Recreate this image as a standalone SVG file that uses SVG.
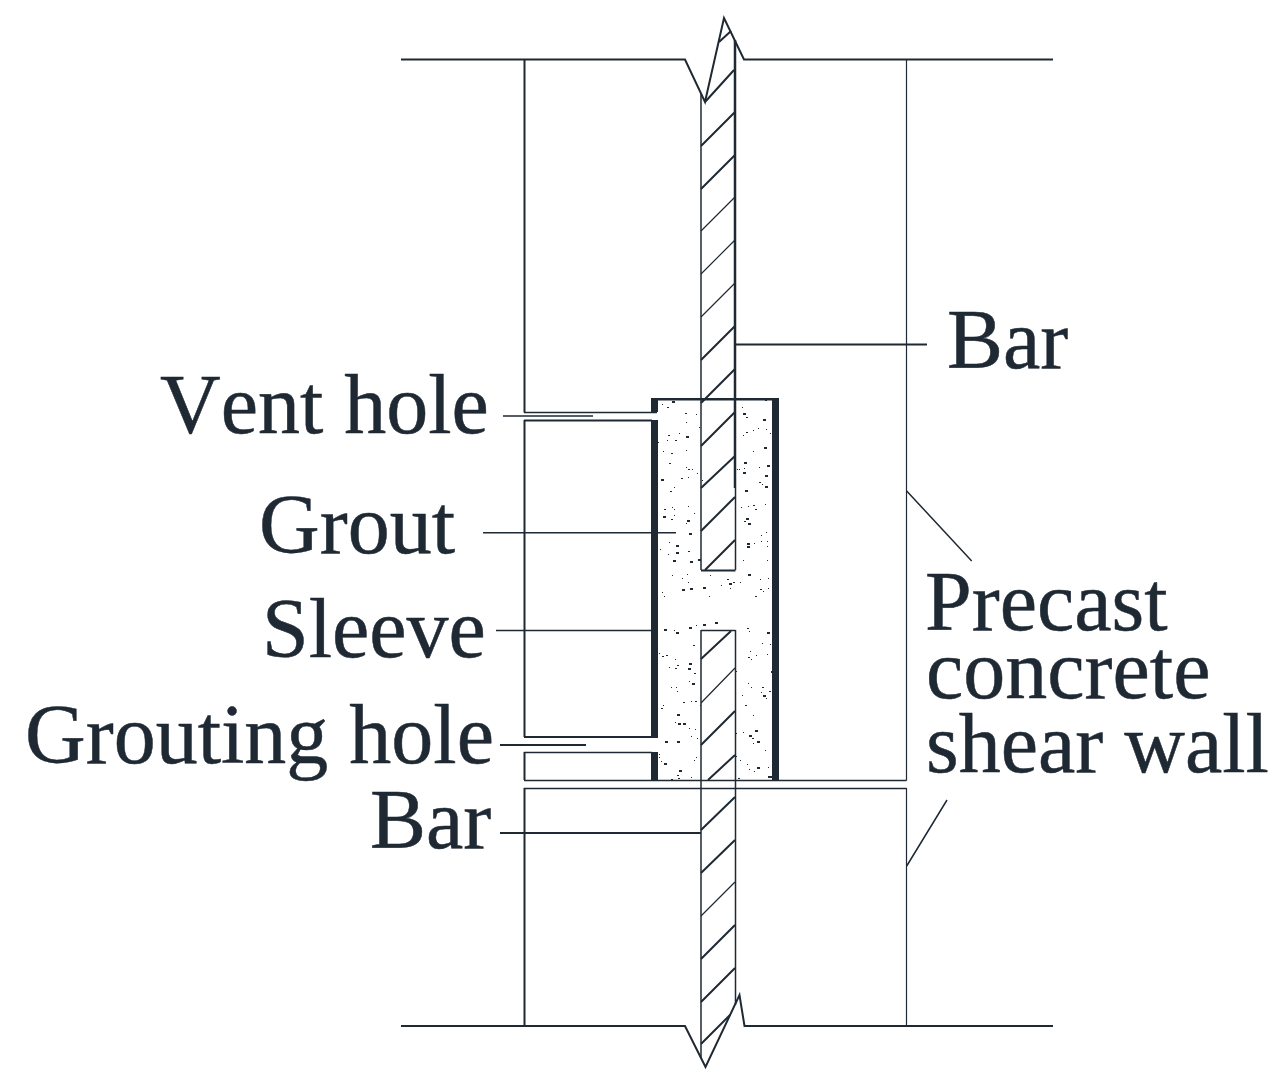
<svg xmlns="http://www.w3.org/2000/svg" width="1288" height="1082" viewBox="0 0 1288 1082">
<style>
.h{fill:none;stroke:#1f2933;stroke-width:1.200}
.l{fill:none;stroke:#1f2933;stroke-width:1.500}
.m{fill:none;stroke:#1f2933;stroke-width:2}
.t{fill:none;stroke:#1f2933;stroke-width:2.500}
.k{fill:#1f2933}
text{font-family:"Liberation Serif","Times New Roman",serif;font-size:84px;fill:#1f2933;stroke:#1f2933;stroke-width:.5px;font-kerning:none}
</style>
<rect width="1288" height="1082" fill="#fff"/>
<g id="walls">
<path class="m" d="M401 59.500H685L705 102L724 18L744 59.500H1053"/>
<path class="m" d="M401 1026H685L705.500 1067L739.500 995L744.500 1026H1053"/>
<path class="m" d="M524.500 59V412.500M524.500 420V737M524.500 752V780M524.500 788V1026"/>
<path class="h" d="M906.500 59V780.500M906.500 788V1026"/>
<path class="l" d="M524 780.500H906.500M524 788.500H906.500"/>
<path class="l" d="M524 412.500H657"/>
<path class="m" d="M524 420.500H652M524 737H657"/>
<path class="l" d="M524 752.500H652"/>
</g>
<g id="sleeve">
<rect class="k" x="651" y="398" width="128" height="2.500"/>
<rect class="k" x="651" y="398" width="7" height="14"/>
<rect class="k" x="651" y="420" width="7" height="318"/>
<rect class="k" x="651" y="752" width="7" height="28"/>
<rect class="k" x="772" y="398" width="7" height="382"/>
</g>
<g id="grout" shape-rendering="crispEdges">
<path fill="none" stroke="#1f2933" stroke-width="2.500" d="M672 402h2.500M686 437h2.500M764 448h2.500M763 420h2.500M743 414h2.500M661 480h2.500M744 463h2.500M765 476h2.500M765 487h2.500M767 466h2.500M745 491h2.500M743 473h2.500M663 517h2.500M687 521h2.500M689 534h2.500M746 519h2.500M748 524h2.500M747 544h2.500M747 547h2.500M676 546h2.500M676 553h2.500M673 561h2.500M690 562h2.500M698 560h2.500M748 575h2.500M682 590h2.500M690 589h2.500M703 588h2.500M729 584h2.500M664 630h2.500M676 633h2.500M689 628h2.500M703 625h2.500M715 623h2.500M767 633h2.500M689 664h2.500M688 669h2.500M692 684h2.500M771 672h2.500M763 696h2.500M677 715h2.500M678 724h2.500M683 724h2.500M755 731h2.500M749 736h2.500M757 742h2.500M665 742h2.500M677 742h2.500M664 764h2.500M679 771h2.500M757 768h2.500M768 777h4"/>
<path transform="translate(0 .5)" fill="none" stroke="#1f2933" stroke-width="1" d="M662 404h1M667 407h2M685 413h2M696 414h1M686 422h1M679 433h1M668 435h2M675 440h2M667 440h1M658 442h1M663 451h1M671 453h2M686 450h1M669 463h2M686 467h1M688 469h2M692 469h1M697 473h1M681 478h2M688 477h1M674 487h1M670 491h2M672 507h1M664 509h2M674 509h1M688 506h1M694 513h1M674 515h1M671 519h2M686 523h1M669 542h1M660 549h1M668 554h1M688 551h2M672 575h1M687 574h1M682 578h1M688 582h1M710 575h1M727 579h2M721 585h1M733 582h2M740 582h1M730 588h1M662 592h1M664 596h1M709 596h1M755 596h2M760 589h2M763 591h1M768 588h1M760 579h1M768 578h1M772 578h1M743 560h1M767 560h1M761 535h1M766 532h1M761 541h1M754 543h1M767 541h1M767 546h1M741 507h1M748 506h1M753 505h2M755 509h2M765 504h1M744 521h2M759 482h2M762 484h1M759 467h1M744 468h1M737 469h1M739 469h1M753 451h1M743 435h1M746 432h2M753 430h1M758 428h1M766 429h1M770 433h1M746 417h2M742 407h1M765 400h2M699 427h1M702 480h1M659 653h1M666 655h2M662 656h2M675 659h1M669 667h1M677 665h2M675 668h2M694 673h2M693 645h2M689 681h1M671 687h1M676 687h1M677 691h1M683 702h2M691 701h1M695 701h2M700 705h1M663 705h1M661 708h2M675 722h1M689 728h1M695 729h1M691 736h1M697 738h1M696 757h1M694 760h1M659 754h1M659 757h1M661 761h1M677 775h2M678 778h2M671 779h2M691 777h1M738 778h2M740 760h1M747 764h1M749 769h1M754 771h1M768 767h1M765 750h1M753 715h1M745 705h2M742 695h1M748 683h1M751 687h1M762 687h2M761 692h1M769 691h2M766 698h1M772 700h1M743 732h1M752 738h2M753 743h1M751 659h1M748 657h2M750 651h1M756 655h1M767 654h1M762 643h1M770 644h1M747 628h2M749 631h1M736 671h1M736 733h1M736 756h1M696 625h1M674 630h1"/>
</g>
<g id="bar-upper">
<path class="l" d="M701 93V570"/>
<path class="t" d="M735 40V488"/>
<path class="l" d="M735.500 488V570"/>
<path class="m" d="M701 570.500H735.500"/>
<path class="m" d="M719 42L731 31M705 102L734 70M701 146L735 112M701 189L735 155M701 360L735 326M701 403L735 369M701 446L735 412M701 488L735 456M701 531L735 497M705 570L735 540"/>
<path class="h" d="M701 231L735 197M701 274L735 240M701 317L735 283"/>
</g>
<g id="bar-lower">
<path class="l" d="M701 630V1058M735.500 630V1005M701 630.500H735.500"/>
<path class="m" d="M701 659L731 631M701 745L735 711M708 780L735 755M701 830L735 797M701 873L735 840M701 959L735 925M701 1002L735 968M701 1044L730 1015"/>
<path class="h" d="M701 703L735 668M701 916L735 882"/>
</g>
<g id="connectors">
<path class="l" d="M503 416H593M483 532.800H676M496 630.500H651"/>
<path class="m" d="M735 344.500H927M500 745H586M500 833H701"/>
<path class="l" d="M906.700 491L971.700 561M906.700 866L947 800"/>
</g>
<g id="labels">
<text x="947" y="368">Bar</text>
<text x="160" y="433">Vent hole</text>
<text x="259" y="553">Grout</text>
<text x="262" y="657">Sleeve</text>
<text x="25" y="763">Grouting hole</text>
<text x="370" y="848">Bar</text>
<text x="925" y="630">Precast</text>
<text x="926" y="697.500">concrete</text>
<text x="926" y="772">shear wall</text>
</g>
</svg>
